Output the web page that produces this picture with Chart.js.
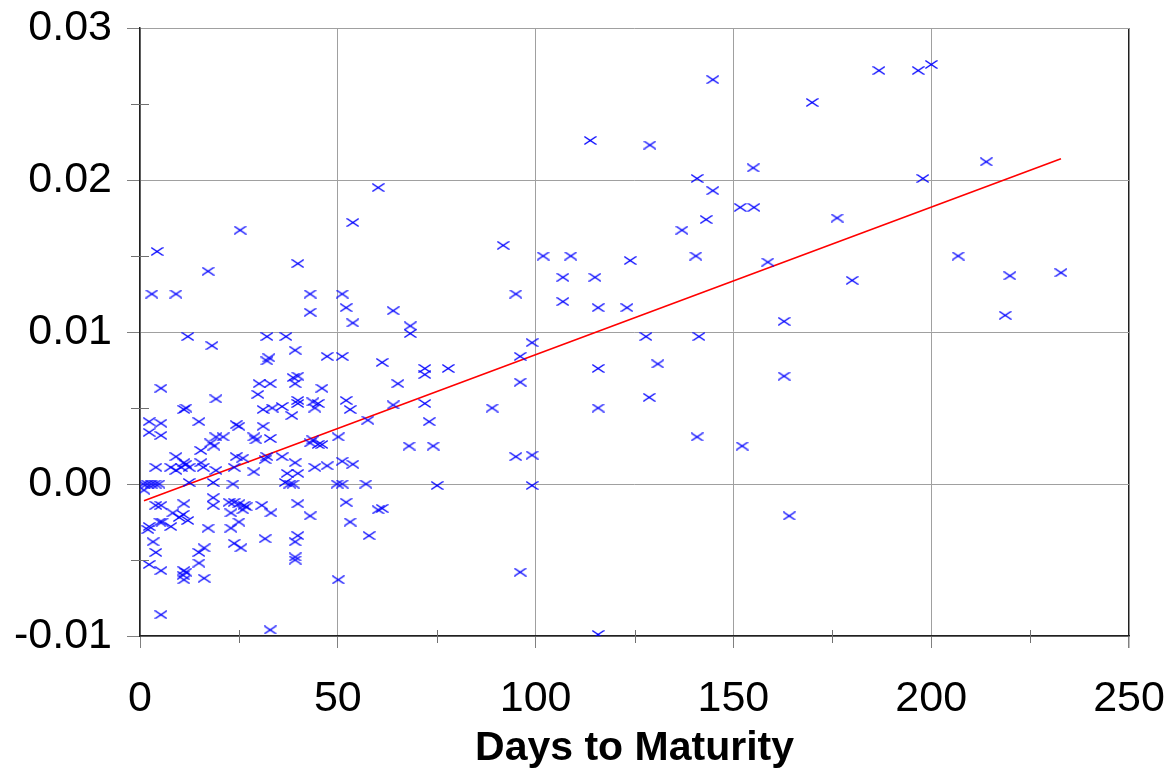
<!DOCTYPE html>
<html>
<head>
<meta charset="utf-8">
<script src="https://cdn.jsdelivr.net/npm/chart.js@4.4.1/dist/chart.umd.min.js"></script>
<style>
  body { margin: 0; background: #fff; }
</style>
</head>
<body>
<canvas id="js-chart" width="1176" height="776"></canvas>
<script>
// values
const daysToMaturity = [
  5.3, 19.2, 11.1, 11.6, 30.1, 29.8, 31.1, 2.3, 5.3, 14.9,
  2.3, 5.3, 24.3, 25.0, 19.2, 17.9, 18.7, 21.0, 28.8, 29.3,
  15.4, 9.1, 11.1, 11.6, 10.4, 15.4, 16.0, 24.3, 26.0, 23.8,
  4.0, 7.8, 9.1, 12.4, 19.2, 28.8, 0.8, 1.8, 2.8, 3.8,
  4.8, 12.4, 18.5, 23.5,
  1.0, 4.0, 5.3, 11.1, 18.5, 18.5, 22.5, 23.8, 25.0, 26.3,
  26.8, 26.0, 23.0, 30.8, 8.3, 9.9, 10.9, 5.0, 5.6, 12.1,
  2.3, 2.0, 7.8, 17.2, 23.0, 25.0, 3.3, 4.0, 14.9, 16.2,
  23.8, 25.5, 31.6, 14.9, 2.3, 5.3, 11.1, 11.6, 10.9, 11.1,
  16.2, 5.3, 32.9,
  25.3, 4.3, 17.2, 3.0, 9.1, 12.1, 18.2,
  32.1, 36.9, 39.2, 32.6, 32.1, 47.3, 51.1, 61.2, 39.9, 38.7,
  39.2, 32.9, 46.0, 65.2, 39.9, 39.9, 43.7, 45.0, 44.2, 52.1,
  53.1, 33.4, 35.9, 38.4, 64.0, 57.6, 31.1, 32.9, 50.1, 43.7,
  45.0, 46.0, 43.0, 32.1, 31.6, 35.9, 39.2, 44.2, 47.3, 51.1,
  53.8, 37.2, 39.9, 36.7, 37.9, 38.7, 49.8, 51.1, 57.1,
  33.1, 39.9, 43.0, 52.1, 53.1, 60.2, 61.2, 57.9, 39.9, 39.2,
  39.2, 39.2, 50.1,
  60.2, 53.8, 39.9, 43.0, 51.1, 52.1, 43.0, 64.0, 53.8,
  91.8, 101.9, 108.9, 137.0, 123.9, 140.5, 106.9, 115.0, 95.0, 106.9,
  115.8, 123.1, 68.3, 68.3, 99.1, 127.9, 141.3, 96.1, 72.0, 72.0,
  77.9, 115.8, 130.9, 96.1, 72.0, 89.0, 115.8, 128.7, 73.1, 68.0,
  74.1, 95.0, 99.1, 140.8, 75.1, 99.1, 96.1, 115.8,
  144.8, 186.8, 196.7, 200.0, 169.9, 213.9, 155.0, 140.8, 197.9, 144.8,
  151.7, 155.2, 143.1, 176.2, 206.8, 158.7, 219.9, 232.8, 180.0, 218.7,
  162.8, 162.8, 152.2, 164.1, 113.8, 128.9
];

const spreadValues = [
  0.0063, 0.0056, 0.0049, 0.0050, 0.0066, 0.0059, 0.0049, 0.0041, 0.0040, 0.0041,
  0.0034, 0.0032, 0.0039, 0.0038, 0.0031, 0.0027, 0.0025, 0.0031, 0.0031, 0.0029,
  0.0022, 0.0018, 0.0014, 0.0013, 0.0011, 0.0014, 0.0011, 0.0018, 0.0017, 0.0011,
  0.0011, 0.0011, 0.0009, 0.0011, 0.0009, 0.0008, 0.0, 0.0, 0.0, 0.0,
  0.0, 0.0001, 0.0001, 0.0,
  -0.0004, -0.0014, -0.0014, -0.0013, -0.0009, -0.0014, -0.0012, -0.0012, -0.0013, -0.0014,
  -0.0015, -0.0017, -0.0019, -0.0014, -0.0019, -0.0022, -0.0020, -0.0025, -0.0025, -0.0024,
  -0.0028, -0.0030, -0.0028, -0.0029, -0.0029, -0.0025, -0.0038, -0.0045, -0.0045, -0.0042,
  -0.0039, -0.0042, -0.0036, -0.0052, -0.0053, -0.0057, -0.0057, -0.0058, -0.0060, -0.0063,
  -0.0062, -0.0086, -0.0096,
  0.0167, 0.0153, 0.0140, 0.0125, 0.0125, 0.0097, 0.0091,
  0.0097, 0.0097, 0.0088, 0.0083, 0.0081, 0.0084, 0.0084, 0.0080, 0.0071, 0.0070,
  0.0066, 0.0066, 0.0063, 0.0066, 0.0055, 0.0053, 0.0054, 0.0053, 0.0050, 0.0055,
  0.0049, 0.0050, 0.0051, 0.0045, 0.0052, 0.0042, 0.0038, 0.0030, 0.0031, 0.0029,
  0.0026, 0.0026, 0.0027, 0.0018, 0.0016, 0.0018, 0.0014, 0.0011, 0.0012, 0.0015,
  0.0013, 0.0007, 0.0007, 0.0001, 0.0, 0.0, 0.0, 0.0, 0.0,
  -0.0019, -0.0013, -0.0021, -0.0012, -0.0025, -0.0017, -0.0016, -0.0034, -0.0034, -0.0038,
  -0.0048, -0.0050, -0.0063,
  0.0195, 0.0172, 0.0145, 0.0125, 0.0125, 0.0116, 0.0113, 0.0114, 0.0106,
  0.0157, 0.0150, 0.0150, 0.0167, 0.0147, 0.0150, 0.0136, 0.0136, 0.0125, 0.0120,
  0.0116, 0.0116, 0.0104, 0.0099, 0.0093, 0.0097, 0.0097, 0.0084, 0.0076, 0.0072,
  0.0076, 0.0076, 0.0079, 0.0067, 0.0053, 0.0050, 0.0050, 0.0057, 0.0041, 0.0025,
  0.0025, 0.0018, 0.0019, 0.0031, -0.0001, -0.0001, -0.0058, -0.0099,
  0.0266, 0.0272, 0.0272, 0.0276, 0.0251, 0.0212, 0.0208, 0.0201, 0.0201, 0.0193,
  0.0182, 0.0182, 0.0174, 0.0175, 0.0150, 0.0146, 0.0137, 0.0139, 0.0134, 0.0111,
  0.0107, 0.0071, 0.0025, -0.0021, 0.0226, 0.0223
];

// trend line ends
const fitDays = [1, 232.8];
const fitValues = [-0.0011, 0.0214];

const xTickValues = [0, 50, 100, 150, 200, 250];
const yTickValues = [-0.01, 0, 0.01, 0.02, 0.03];
const xMinorTicks = [25, 75, 125, 175, 225];
const yMinorTicks = [-0.005, 0.005, 0.015, 0.025];

const FONT = "'Liberation Sans', Arial, sans-serif";

// flat blue "x" marker
function makeMarker() {
  const c = document.createElement("canvas");
  c.width = 13;
  c.height = 9;
  const g = c.getContext("2d");
  g.strokeStyle = "#0000ff";
  g.lineWidth = 1.3;
  g.beginPath();
  g.moveTo(0.5, 0.5);
  g.lineTo(12.5, 8.5);
  g.moveTo(12.5, 0.5);
  g.lineTo(0.5, 8.5);
  g.stroke();
  return c;
}

const minorTicksPlugin = {
  id: "minorTicks",
  afterDraw(chart) {
    const { ctx, chartArea, scales } = chart;
    ctx.save();
    ctx.strokeStyle = "#707070";
    ctx.lineWidth = 1;
    ctx.beginPath();
    xMinorTicks.forEach((v) => {
      const px = Math.round(scales.x.getPixelForValue(v)) + 0.5;
      ctx.moveTo(px, chartArea.bottom - 6);
      ctx.lineTo(px, chartArea.bottom + 7);
    });
    yMinorTicks.forEach((v) => {
      const py = Math.round(scales.y.getPixelForValue(v)) + 0.5;
      ctx.moveTo(chartArea.left - 9, py);
      ctx.lineTo(chartArea.left + 9, py);
    });
    ctx.stroke();
    ctx.restore();
  },
};

const context = document.getElementById("js-chart").getContext("2d");

const spreadChart = new Chart(context, {
  type: "scatter",
  data: {
    datasets: [
      {
        label: "data",
        data: daysToMaturity.map((d, i) => ({ x: d, y: spreadValues[i] })),
        pointStyle: makeMarker(),
        pointRadius: 5,
        borderColor: "#0000ff",
        backgroundColor: "#0000ff",
      },
      {
        type: "line",
        label: "fit",
        data: fitDays.map((d, i) => ({ x: d, y: fitValues[i] })),
        borderColor: "#ff0000",
        borderWidth: 1.6,
        pointRadius: 0,
        fill: false,
      },
    ],
  },
  options: {
    responsive: false,
    animation: false,
    devicePixelRatio: 1,
    layout: { padding: { top: 28, right: 47, left: 0, bottom: 0 } },
    plugins: { legend: { display: false }, tooltip: { enabled: false } },
    scales: {
      x: {
        type: "linear",
        min: 0,
        max: 250,
        afterBuildTicks: (scale) => {
          scale.ticks = xTickValues.map((v) => ({ value: v }));
        },
        afterFit: (scale) => {
          scale.height = 140;
          scale.paddingLeft = 0;
          scale.paddingRight = 0;
        },
        ticks: {
          color: "#000",
          font: { family: FONT, size: 43 },
          padding: 25,
          maxRotation: 0,
          callback: (value) => value,
        },
        grid: {
          color: (c) => (c.tick && c.tick.value === 250 ? "#202020" : "#a0a0a0"),
          lineWidth: (c) => (c.tick && c.tick.value === 250 ? 1.5 : 1),
          tickColor: "#808080",
          tickLength: 12,
        },
        border: { display: true, color: "#202020", width: 1.5 },
        title: {
          display: true,
          text: "Days to Maturity",
          color: "#000",
          font: { family: FONT, size: 41, weight: "bold" },
          padding: { top: 0, bottom: 3 },
        },
      },
      y: {
        type: "linear",
        min: -0.01,
        max: 0.03,
        afterBuildTicks: (scale) => {
          scale.ticks = yTickValues.map((v) => ({ value: v }));
        },
        afterFit: (scale) => {
          scale.width = 140;
          scale.paddingTop = 0;
          scale.paddingBottom = 0;
        },
        ticks: {
          color: "#000",
          font: { family: FONT, size: 43 },
          padding: 15,
          callback: (value) => value.toFixed(2),
        },
        grid: {
          color: "#a0a0a0",
          tickColor: "#808080",
          tickLength: 13,
        },
        border: { display: true, color: "#202020", width: 1.5 },
      },
    },
  },
  plugins: [minorTicksPlugin],
});
</script>
</body>
</html>
